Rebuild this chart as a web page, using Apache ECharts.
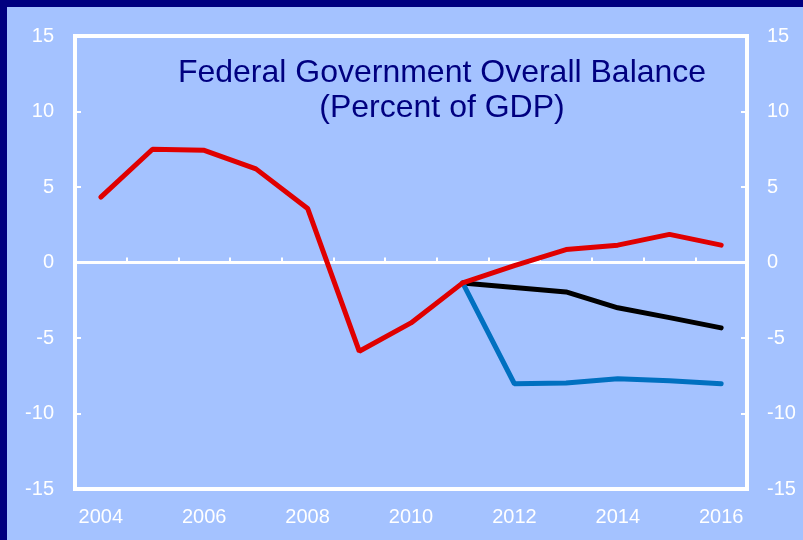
<!DOCTYPE html>
<html>
<head>
<meta charset="utf-8">
<script src="https://cdn.jsdelivr.net/npm/echarts@6/dist/echarts.min.js"></script>
<style>
  html, body { margin: 0; padding: 0; background: #A4C2FF; }
  #chart { width: 803px; height: 540px; }
</style>
</head>
<body>
<div id="chart"></div>
<script>
// Federal government overall balance, percent of GDP
var years = ['2004', '2005', '2006', '2007', '2008', '2009', '2010', '2011', '2012', '2013', '2014', '2015', '2016'];
var redSeries   = [4.33, 7.5, 7.43, 6.2, 3.58, -5.88, -4.0, -1.35, -0.2, 0.86, 1.15, 1.86, 1.15];
var blackSeries = [null, null, null, null, null, null, null, -1.35, -1.65, -1.95, -3.0, -3.65, -4.33];
var blueSeries  = [null, null, null, null, null, null, null, -1.35, -8.03, -7.98, -7.7, -7.83, -8.03];
var titleLines  = ['Federal Government Overall Balance', '(Percent of GDP)'];

var navy = '#000080';
var white = '#FFFFFF';
var labelFont = 'Liberation Sans, Arial, sans-serif';

var chart = echarts.init(document.getElementById('chart'), null, { renderer: 'canvas' });

function yAxisDef(pos) {
  return {
    type: 'value',
    position: pos,
    min: -15,
    max: 15,
    interval: 5,
    axisLine: { show: false },
    axisTick: { show: true, inside: true, length: 6, lineStyle: { color: white, width: 2 } },
    axisLabel: { color: white, fontSize: 20, fontFamily: labelFont, margin: pos === 'left' ? 21 : 20 },
    splitLine: { show: false }
  };
}

function lineSeries(name, data, color) {
  return {
    name: name,
    type: 'line',
    xAxisIndex: 1,
    yAxisIndex: 0,
    data: data,
    symbol: 'none',
    connectNulls: false,
    lineStyle: { color: color, width: 5, cap: 'round' },
    itemStyle: { color: color },
    silent: true,
    animation: false
  };
}

chart.setOption({
  backgroundColor: '#A4C2FF',
  animation: false,
  grid: {
    left: 75,
    top: 36,
    width: 672,
    height: 453,
    show: true,
    borderColor: white,
    borderWidth: 4,
    backgroundColor: 'transparent'
  },
  xAxis: [
    {
      // zero line with boundary ticks
      type: 'category',
      data: years,
      position: 'bottom',
      axisLine: { show: true, onZero: true, onZeroAxisIndex: 0, lineStyle: { color: white, width: 3 } },
      axisTick: { show: true, inside: true, length: 5, lineStyle: { color: white, width: 2 } },
      axisLabel: { show: false },
      splitLine: { show: false }
    },
    {
      // year labels along the bottom edge
      type: 'category',
      data: years,
      position: 'bottom',
      axisLine: { show: false, onZero: false },
      axisTick: { show: false },
      axisLabel: { color: white, fontSize: 20, fontFamily: labelFont, margin: 18, interval: 1 },
      splitLine: { show: false }
    }
  ],
  yAxis: [yAxisDef('left'), yAxisDef('right')],
  series: [
    lineSeries('black', blackSeries, '#000000'),
    lineSeries('blue', blueSeries, '#0070C0'),
    lineSeries('red', redSeries, '#E00000')
  ],
  graphic: [
    { type: 'rect', left: 0, top: 0, shape: { width: 803, height: 7 }, style: { fill: navy }, silent: true },
    { type: 'rect', left: 0, top: 0, shape: { width: 7, height: 540 }, style: { fill: navy }, silent: true },
    {
      type: 'text', x: 442, y: 73, silent: true,
      style: { text: titleLines[0], fill: navy, font: '32px "Liberation Sans", Arial, sans-serif', textAlign: 'center', textVerticalAlign: 'middle' }
    },
    {
      type: 'text', x: 442, y: 108, silent: true,
      style: { text: titleLines[1], fill: navy, font: '32px "Liberation Sans", Arial, sans-serif', textAlign: 'center', textVerticalAlign: 'middle' }
    }
  ]
});
</script>
</body>
</html>
